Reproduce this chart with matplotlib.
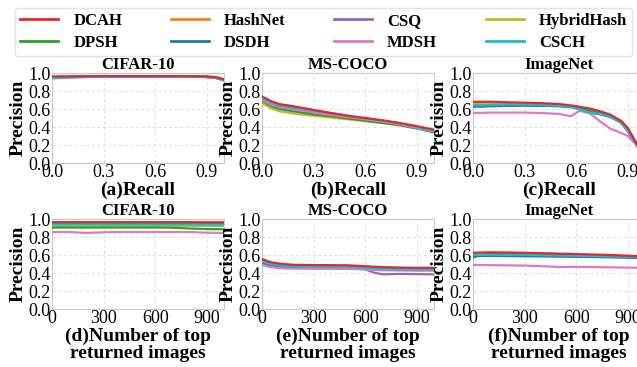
import matplotlib
matplotlib.use("Agg")
import matplotlib.pyplot as plt

methods = ["DCAH", "HashNet", "CSQ", "HybridHash", "DPSH", "DSDH", "MDSH", "CSCH"]
colors = ["#e8262a", "#ff7f0e", "#9467bd", "#bcbd22", "#2ca02c", "#1f77b4", "#e377c2", "#17becf"]

titles = ["CIFAR-10", "MS-COCO", "ImageNet", "CIFAR-10", "MS-COCO", "ImageNet"]
xlabels = ["(a)Recall", "(b)Recall", "(c)Recall",
           "(d)Number of top\nreturned images", "(e)Number of top\nreturned images",
           "(f)Number of top\nreturned images"]

# (a) CIFAR-10 precision-recall
recall_a = [0, 0.1, 0.2, 0.3, 0.4, 0.5, 0.6, 0.7, 0.8, 0.9, 0.95, 1.0]
pr_cifar = [
    [0.962, 0.963, 0.964, 0.965, 0.965, 0.965, 0.965, 0.965, 0.964, 0.962, 0.955, 0.93],
    [0.956, 0.958, 0.960, 0.961, 0.961, 0.961, 0.961, 0.961, 0.960, 0.957, 0.949, 0.924],
    [0.955, 0.958, 0.960, 0.961, 0.961, 0.961, 0.961, 0.961, 0.960, 0.957, 0.949, 0.924],
    [0.954, 0.957, 0.959, 0.960, 0.960, 0.960, 0.960, 0.960, 0.959, 0.956, 0.948, 0.922],
    [0.953, 0.956, 0.958, 0.960, 0.960, 0.960, 0.960, 0.960, 0.959, 0.956, 0.947, 0.921],
    [0.950, 0.955, 0.958, 0.960, 0.960, 0.960, 0.960, 0.960, 0.959, 0.956, 0.947, 0.920],
    [0.950, 0.954, 0.957, 0.959, 0.959, 0.959, 0.959, 0.959, 0.958, 0.955, 0.946, 0.919],
    [0.940, 0.948, 0.955, 0.960, 0.961, 0.961, 0.961, 0.961, 0.960, 0.957, 0.948, 0.918],
]

# (b) MS-COCO precision-recall
recall_b = [0, 0.05, 0.1, 0.2, 0.3, 0.4, 0.5, 0.6, 0.7, 0.8, 0.9, 1.0]
pr_coco = [
    [0.74, 0.69, 0.655, 0.625, 0.59, 0.555, 0.525, 0.50, 0.475, 0.445, 0.41, 0.37],
    [0.70, 0.645, 0.61, 0.58, 0.55, 0.525, 0.50, 0.475, 0.45, 0.425, 0.39, 0.35],
    [0.71, 0.66, 0.63, 0.60, 0.57, 0.54, 0.515, 0.49, 0.465, 0.435, 0.395, 0.35],
    [0.665, 0.61, 0.575, 0.545, 0.525, 0.505, 0.485, 0.465, 0.445, 0.42, 0.385, 0.345],
    [0.69, 0.635, 0.60, 0.57, 0.54, 0.52, 0.495, 0.47, 0.445, 0.42, 0.385, 0.34],
    [0.70, 0.65, 0.62, 0.59, 0.56, 0.535, 0.51, 0.485, 0.46, 0.43, 0.39, 0.35],
    [0.70, 0.65, 0.62, 0.59, 0.56, 0.535, 0.51, 0.485, 0.46, 0.43, 0.39, 0.35],
    [0.72, 0.67, 0.64, 0.61, 0.58, 0.555, 0.525, 0.495, 0.47, 0.44, 0.40, 0.355],
]

# (c) ImageNet precision-recall
recall_c = [0, 0.1, 0.2, 0.3, 0.4, 0.5, 0.57, 0.62, 0.68, 0.74, 0.8, 0.86, 0.9, 0.95, 1.0]
pr_imagenet = [
    [0.68, 0.68, 0.675, 0.67, 0.665, 0.655, 0.64, 0.625, 0.605, 0.575, 0.535, 0.47, 0.39, 0.22, 0.08],
    [0.66, 0.66, 0.66, 0.655, 0.65, 0.64, 0.63, 0.615, 0.59, 0.56, 0.525, 0.46, 0.37, 0.21, 0.07],
    [0.64, 0.645, 0.645, 0.645, 0.64, 0.635, 0.625, 0.61, 0.585, 0.555, 0.52, 0.455, 0.36, 0.20, 0.07],
    [0.66, 0.66, 0.66, 0.655, 0.65, 0.64, 0.625, 0.605, 0.575, 0.545, 0.52, 0.47, 0.38, 0.22, 0.08],
    [0.63, 0.635, 0.64, 0.64, 0.64, 0.635, 0.625, 0.605, 0.58, 0.55, 0.515, 0.455, 0.36, 0.20, 0.07],
    [0.625, 0.63, 0.635, 0.64, 0.635, 0.63, 0.62, 0.60, 0.56, 0.54, 0.51, 0.45, 0.355, 0.20, 0.07],
    [0.555, 0.56, 0.56, 0.56, 0.555, 0.545, 0.52, 0.58, 0.55, 0.46, 0.38, 0.335, 0.30, 0.20, 0.07],
    [0.64, 0.645, 0.65, 0.65, 0.645, 0.635, 0.625, 0.595, 0.56, 0.545, 0.515, 0.455, 0.36, 0.20, 0.07],
]

# (d) CIFAR-10 precision@N
topn_d = [0, 100, 200, 300, 400, 500, 600, 700, 800, 900, 1000]
pn_cifar = [
    [0.965, 0.965, 0.965, 0.965, 0.965, 0.965, 0.965, 0.965, 0.965, 0.964, 0.964],
    [0.955, 0.955, 0.955, 0.955, 0.955, 0.955, 0.955, 0.955, 0.954, 0.953, 0.952],
    [0.953, 0.953, 0.953, 0.953, 0.953, 0.953, 0.953, 0.953, 0.952, 0.951, 0.950],
    [0.925, 0.925, 0.925, 0.925, 0.925, 0.925, 0.925, 0.925, 0.924, 0.923, 0.922],
    [0.905, 0.905, 0.905, 0.905, 0.905, 0.905, 0.905, 0.903, 0.895, 0.888, 0.886],
    [0.948, 0.948, 0.948, 0.948, 0.948, 0.948, 0.948, 0.948, 0.947, 0.945, 0.944],
    [0.855, 0.855, 0.845, 0.852, 0.855, 0.855, 0.855, 0.855, 0.855, 0.848, 0.845],
    [0.940, 0.940, 0.940, 0.940, 0.940, 0.940, 0.940, 0.940, 0.939, 0.937, 0.936],
]

# (e) MS-COCO precision@N
topn_e = [0, 50, 100, 150, 200, 300, 400, 500, 600, 650, 700, 800, 900, 1000]
pn_coco = [
    [0.555, 0.52, 0.505, 0.495, 0.49, 0.488, 0.487, 0.485, 0.475, 0.47, 0.465, 0.46, 0.458, 0.457],
    [0.54, 0.51, 0.495, 0.49, 0.485, 0.483, 0.482, 0.48, 0.47, 0.465, 0.46, 0.455, 0.452, 0.45],
    [0.52, 0.49, 0.475, 0.47, 0.468, 0.465, 0.463, 0.46, 0.44, 0.405, 0.385, 0.39, 0.388, 0.385],
    [0.53, 0.50, 0.485, 0.48, 0.478, 0.476, 0.475, 0.473, 0.463, 0.458, 0.453, 0.45, 0.447, 0.445],
    [0.53, 0.505, 0.49, 0.485, 0.48, 0.478, 0.477, 0.475, 0.465, 0.46, 0.455, 0.45, 0.448, 0.447],
    [0.51, 0.485, 0.47, 0.465, 0.463, 0.462, 0.46, 0.458, 0.45, 0.445, 0.44, 0.437, 0.435, 0.434],
    [0.49, 0.465, 0.455, 0.45, 0.448, 0.447, 0.446, 0.445, 0.44, 0.435, 0.43, 0.428, 0.425, 0.425],
    [0.525, 0.50, 0.485, 0.475, 0.47, 0.468, 0.466, 0.464, 0.455, 0.45, 0.445, 0.44, 0.438, 0.437],
]

# (f) ImageNet precision@N
topn_f = [0, 50, 100, 200, 300, 400, 500, 600, 700, 800, 900, 1000]
pn_imagenet = [
    [0.625, 0.628, 0.63, 0.628, 0.625, 0.62, 0.615, 0.61, 0.605, 0.60, 0.592, 0.585],
    [0.615, 0.618, 0.62, 0.62, 0.618, 0.614, 0.61, 0.605, 0.598, 0.592, 0.585, 0.578],
    [0.60, 0.61, 0.612, 0.612, 0.61, 0.606, 0.602, 0.598, 0.592, 0.586, 0.58, 0.574],
    [0.61, 0.615, 0.617, 0.617, 0.615, 0.611, 0.607, 0.603, 0.597, 0.59, 0.583, 0.576],
    [0.57, 0.605, 0.612, 0.613, 0.611, 0.607, 0.603, 0.599, 0.593, 0.587, 0.58, 0.573],
    [0.59, 0.59, 0.59, 0.588, 0.586, 0.584, 0.582, 0.58, 0.577, 0.574, 0.57, 0.566],
    [0.49, 0.488, 0.487, 0.485, 0.482, 0.475, 0.468, 0.467, 0.466, 0.463, 0.46, 0.457],
    [0.60, 0.602, 0.603, 0.603, 0.601, 0.598, 0.595, 0.592, 0.588, 0.584, 0.58, 0.575],
]

pr_xticks = [0.0, 0.3, 0.6, 0.9]
pn_xticks = [0, 300, 600, 900]
yticks = [0.0, 0.2, 0.4, 0.6, 0.8, 1.0]

panels = [
    (recall_a, pr_cifar, pr_xticks, ["0.0", "0.3", "0.6", "0.9"], (0, 1)),
    (recall_b, pr_coco, pr_xticks, ["0.0", "0.3", "0.6", "0.9"], (0, 1)),
    (recall_c, pr_imagenet, pr_xticks, ["0.0", "0.3", "0.6", "0.9"], (0, 1)),
    (topn_d, pn_cifar, pn_xticks, ["0", "300", "600", "900"], (0, 1000)),
    (topn_e, pn_coco, pn_xticks, ["0", "300", "600", "900"], (0, 1000)),
    (topn_f, pn_imagenet, pn_xticks, ["0", "300", "600", "900"], (0, 1000)),
]

plt.rcParams["font.family"] = ["Liberation Serif", "DejaVu Serif"]

W, H = 637, 367
fig = plt.figure(figsize=(W / 100, H / 100), dpi=100)

lefts = [52, 262, 473]
row_tops = [73, 219]
aw, ah = 172, 90

handles = []
for i, (xs, series, xt, xtl, xlim) in enumerate(panels):
    r, c = divmod(i, 3)
    ax = fig.add_axes([lefts[c] / W, 1 - (row_tops[r] + ah) / H, aw / W, ah / H])
    for k, (m, col) in enumerate(zip(methods, colors)):
        ln, = ax.plot(xs, series[k], color=col, lw=1.6, label=m,
                      zorder=10 if k == 0 else 3 + k * 0.1)
        if i == 0:
            handles.append(ln)
    ax.set_xlim(*xlim)
    ax.set_ylim(0, 1)
    ax.set_xticks(xt)
    ax.set_xticklabels(xtl)
    ax.set_yticks(yticks)
    ax.set_yticklabels([f"{v:.1f}" for v in yticks])
    ax.tick_params(length=0, labelsize=13, pad=1)
    ax.grid(True, color="#e2e2e2", lw=0.8, ls=(0, (3, 2)))
    ax.set_axisbelow(True)
    for s in ax.spines.values():
        s.set_color("#c8c8c8")
        s.set_linewidth(0.8)
    ax.set_title(titles[i], fontsize=12, fontweight="bold", pad=1)
    ax.set_ylabel("Precision", fontsize=14, fontweight="bold", labelpad=1)
    ax.set_xlabel(xlabels[i], fontsize=14, fontweight="bold", labelpad=0,
                  linespacing=1.0)

order = [0, 4, 1, 5, 2, 6, 3, 7]
leg = fig.legend([handles[k] for k in order], [methods[k] for k in order],
                 loc="upper center", bbox_to_anchor=(0.508, 0.978), ncol=4,
                 prop={"weight": "bold", "size": 12}, frameon=True,
                 handlelength=2.3, handletextpad=0.9, columnspacing=2.9,
                 labelspacing=0.35, borderpad=0.3, borderaxespad=0,
                 fancybox=True)
leg.get_frame().set_edgecolor("#dddddd")
for lh in leg.get_lines():
    lh.set_linewidth(2)

fig.savefig("out.png", dpi=100)
